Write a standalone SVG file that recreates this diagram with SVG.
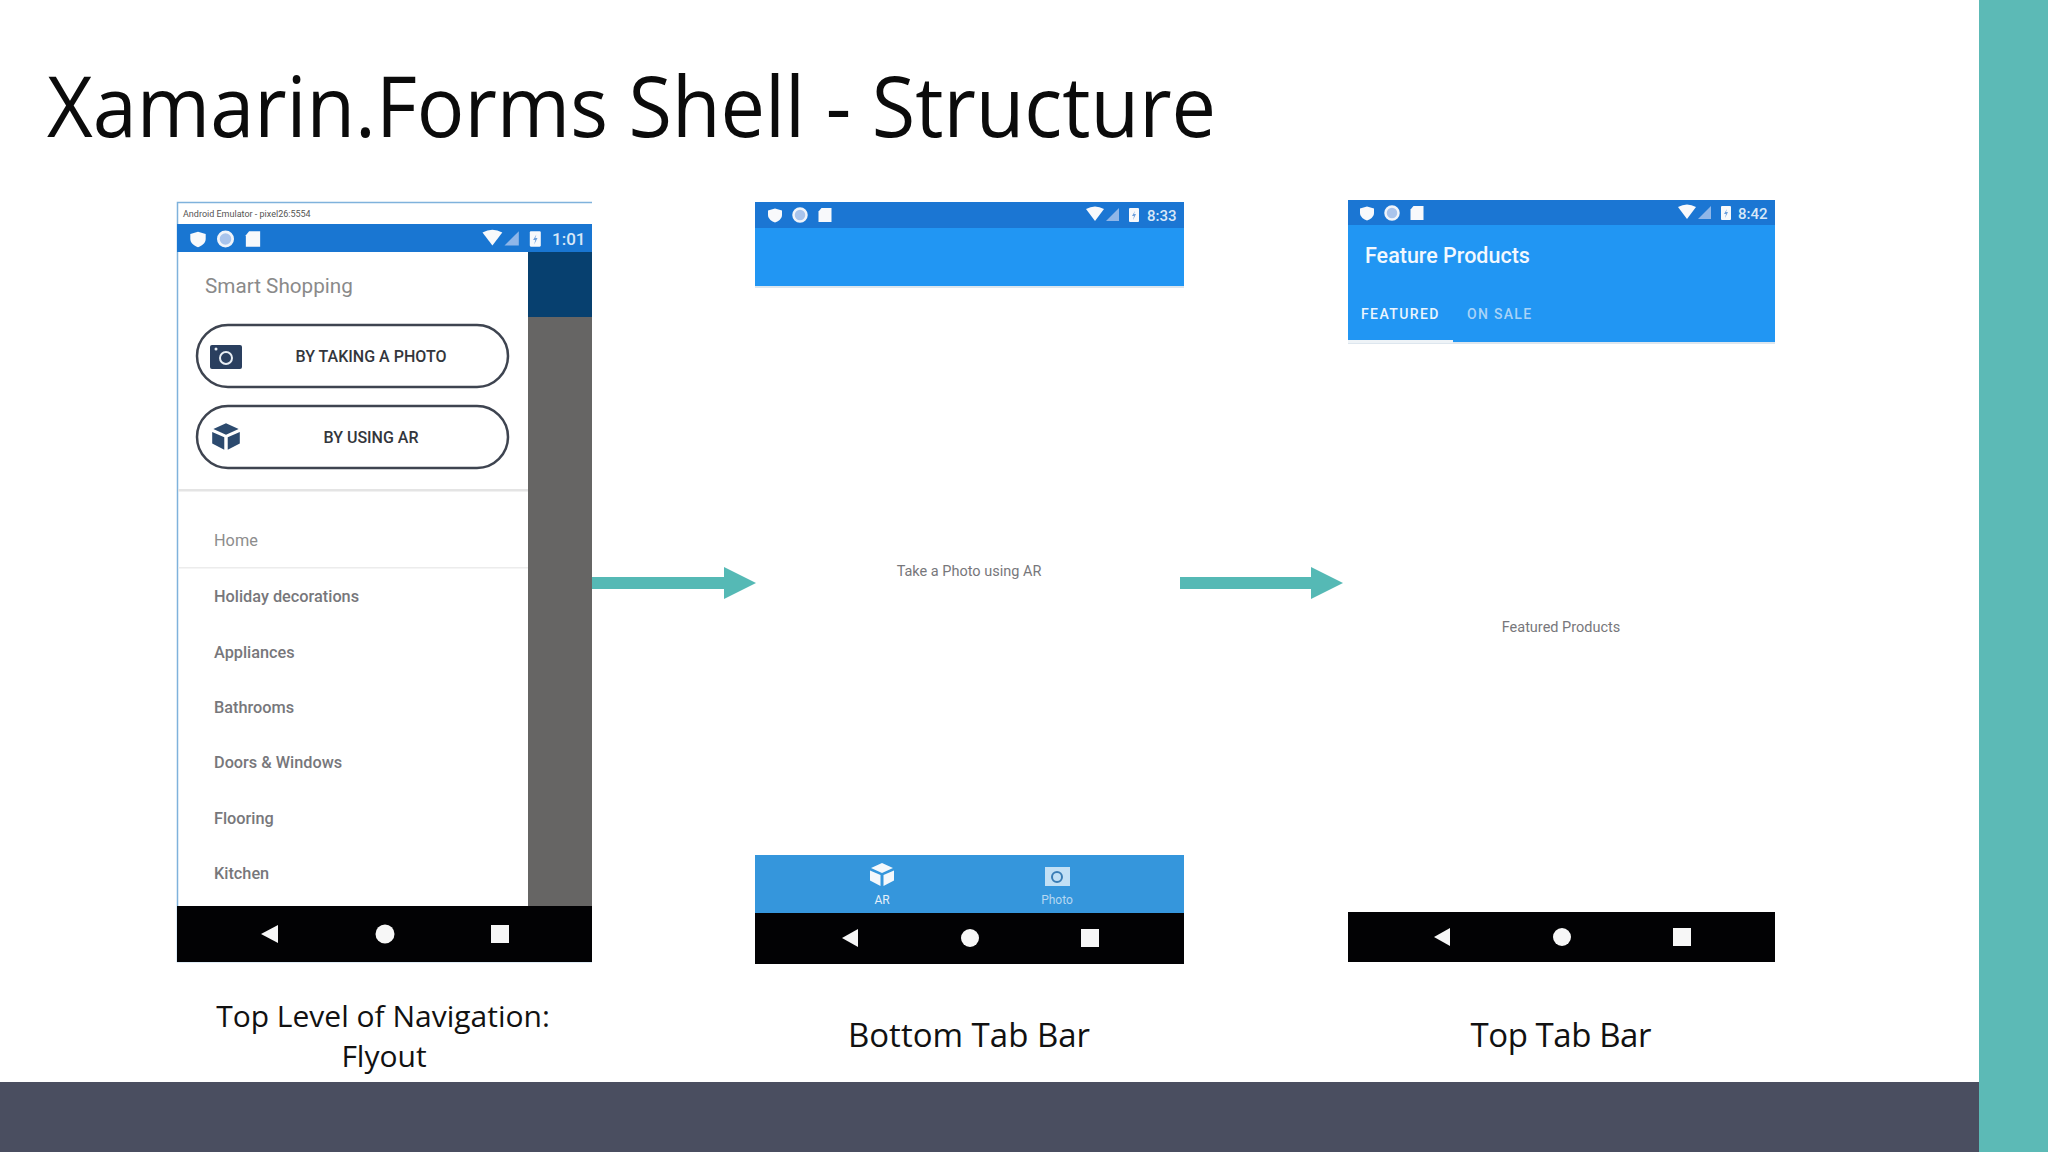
<svg xmlns="http://www.w3.org/2000/svg" width="2048" height="1152" viewBox="0 0 2048 1152">
<style>
.cap{font-family:"Open Sans","Liberation Sans",sans-serif;font-size:33px;fill:#111;text-anchor:middle}
.cap2{font-size:30px}
.r{font-family:Roboto,"Liberation Sans",sans-serif}
.st{font-size:15px;fill:#d8e8f8;font-weight:500}
.m{font-size:16.300px;font-weight:500;fill:#77777b}
.btn{fill:#fff;stroke:#3e4450;stroke-width:2.5}
.bt{font-size:16px;font-weight:500;fill:#33363c;text-anchor:middle}
.w{fill:#f8f9fb}
.nav{fill:#020204}
.ic{fill:#f7f7f7}
</style>
<defs>
<g id="status"><path d="M20 -6.500 L27 -4.500 V0 C27 4 23 6.500 20 7.500 C17 6.500 13 4 13 0 V-4.500Z" class="w"/><circle cx="45" cy="0" r="6.500" fill="#a9c4ec" stroke="#f0f4fa" stroke-width="2.500"/><path d="M66.500 -7H76.500V7H63.500V-3.500Z" class="w"/></g>
<g id="sysicons"><path d="M-15 -6 Q-6 -11 3 -6 L-6 6Z" class="w"/><path d="M5 6 L18 6 V-7Z" fill="#8fb6e8"/><rect x="28" y="-7" width="10" height="14" rx="1" class="w"/><path d="M34 -4 L31 1 H33 L32 5 L35 -1 H33Z" fill="#6d9fdc"/></g>
<g id="navicons"><path d="M-8 0 L8 -9 V9Z" class="ic" transform="translate(-120 0)"/><circle r="9" class="ic"/><rect x="111" y="-9" width="18" height="18" class="ic"/></g>
<g id="cube"><path d="M0 -11 L11 -6 L0 -1 L-11 -6Z M-12 -3.500 L-1.500 1 V12 L-12 6.500Z M12 -3.500 L1.500 1 V12 L12 6.500Z"/></g>
</defs>
<rect width="2048" height="1152" fill="#fff"/>
<rect x="1979" width="69" height="1152" fill="#5cbab6"/>
<rect y="1082" width="1979" height="70" fill="#4a4e60"/>
<text id="title" x="47" y="137" font-family="'Open Sans','Liberation Sans',sans-serif" font-size="84" fill="#0b0b0b" textLength="1169" lengthAdjust="spacingAndGlyphs">Xamarin.Forms Shell - Structure</text>

<g id="flyout-screen">
<rect x="177" y="202" width="415" height="760" fill="#fff"/>
<path d="M592 202.500H177.500V961.500H592" fill="none" stroke="#7fb2dc" stroke-width="1.500"/>
<text class="r" x="183" y="217" font-size="9" fill="#555">Android Emulator - pixel26:5554</text>
<rect x="177" y="224" width="415" height="28" fill="#1976d2"/>
<use href="#status" transform="translate(176 239) scale(1.100)"/>
<use href="#sysicons" transform="translate(499 239) scale(1.100)"/>
<text class="r st" x="552" y="245" style="font-size:17px">1:01</text>
<rect x="528" y="252" width="64" height="65" fill="#07406f"/>
<rect x="528" y="317" width="64" height="589" fill="#666564"/>
<text class="r" x="205" y="293" font-size="20.700" fill="#8a8a8a">Smart Shopping</text>
<rect class="btn" x="197" y="325" width="311" height="62" rx="31"/>
<rect x="210" y="345" width="32" height="24" rx="2" fill="#2a3f5f"/>
<circle cx="226" cy="358" r="6" fill="none" stroke="#e8eef4" stroke-width="2"/>
<circle cx="216" cy="349" r="1.500" fill="#e8eef4"/>
<text class="r bt" x="371" y="362">BY TAKING A PHOTO</text>
<rect class="btn" x="197" y="406" width="311" height="62" rx="31"/>
<use href="#cube" fill="#2c4a6e" transform="translate(226 436) scale(1.150)"/>
<text class="r bt" x="371" y="443">BY USING AR</text>
<rect x="178" y="489" width="350" height="2.500" fill="#e4e4e4"/>
<text class="r" x="214" y="546" font-size="16.300" fill="#8d8d8d">Home</text>
<rect x="178" y="567" width="350" height="1.500" fill="#ececec"/>
<text class="r m" x="214" y="602">Holiday decorations</text>
<text class="r m" x="214" y="658">Appliances</text>
<text class="r m" x="214" y="713">Bathrooms</text>
<text class="r m" x="214" y="768">Doors &amp; Windows</text>
<text class="r m" x="214" y="824">Flooring</text>
<text class="r m" x="214" y="879">Kitchen</text>
<rect class="nav" x="177" y="906" width="415" height="56"/>
<path d="M261 934 L278 925 V943Z" class="ic"/>
<circle cx="385" cy="934" r="9.500" class="ic"/>
<rect x="491" y="925" width="18" height="18" class="ic"/>
</g>

<g id="bottom-tab-screen">
<rect x="755" y="202" width="429" height="26" fill="#1b76d3"/>
<rect x="755" y="228" width="429" height="58" fill="#2196f3"/>
<rect x="755" y="286" width="429" height="2" fill="#dde6ee"/>
<use href="#status" transform="translate(755 215)"/>
<use href="#sysicons" transform="translate(1101 215)"/>
<text class="r st" x="1147" y="221">8:33</text>
<text class="r" x="969" y="576" font-size="14.500" fill="#77777b" text-anchor="middle">Take a Photo using AR</text>
<rect x="755" y="855" width="429" height="58" fill="#3596dc"/>
<use href="#cube" fill="#f4f8fc" transform="translate(882 874)"/>
<text class="r" x="882" y="904" font-size="12" fill="#e4eff9" text-anchor="middle">AR</text>
<rect x="1045" y="867" width="25" height="19" fill="#c2e0f5"/>
<circle cx="1057" cy="877" r="5" fill="none" stroke="#3a7db5" stroke-width="2"/>
<text class="r" x="1057" y="904" font-size="12" fill="#b5d8f2" text-anchor="middle">Photo</text>
<rect class="nav" x="755" y="913" width="429" height="51"/>
<use href="#navicons" transform="translate(970 938)"/>
</g>

<g id="top-tab-screen">
<rect x="1348" y="200" width="427" height="25" fill="#1b76d3"/>
<rect x="1348" y="225" width="427" height="117" fill="#2196f3"/>
<rect x="1348" y="342" width="427" height="2" fill="#dde6ee"/>
<rect x="1348" y="340" width="105" height="3" fill="#eef3f7"/>
<use href="#status" transform="translate(1347 213)"/>
<use href="#sysicons" transform="translate(1693 213)"/>
<text class="r st" x="1738" y="219">8:42</text>
<text class="r" x="1365" y="263" font-size="21.500" font-weight="500" fill="#f2f8fe">Feature Products</text>
<text class="r" x="1361" y="319" font-size="14" font-weight="500" letter-spacing="1.400" fill="#ecf5fd">FEATURED</text>
<text class="r" x="1467" y="319" font-size="14" font-weight="500" letter-spacing="1.300" fill="#a9d3f7">ON SALE</text>
<text class="r" x="1561" y="632" font-size="14.500" fill="#77777b" text-anchor="middle">Featured Products</text>
<rect class="nav" x="1348" y="912" width="427" height="50"/>
<use href="#navicons" transform="translate(1562 937)"/>
</g>

<g id="connectors" fill="#55b9b5">
<path d="M592 577H724V567L756 583L724 599V589H592Z"/>
<path d="M1180 577H1311V567L1343 583L1311 599V589H1180Z"/>
</g>

<g id="captions">
<text class="cap cap2" x="383" y="1027">Top Level of Navigation:</text>
<text class="cap cap2" x="384" y="1067">Flyout</text>
<text class="cap" x="969" y="1047">Bottom Tab Bar</text>
<text class="cap" x="1561" y="1047" textLength="181">Top Tab Bar</text>
</g>
</svg>
